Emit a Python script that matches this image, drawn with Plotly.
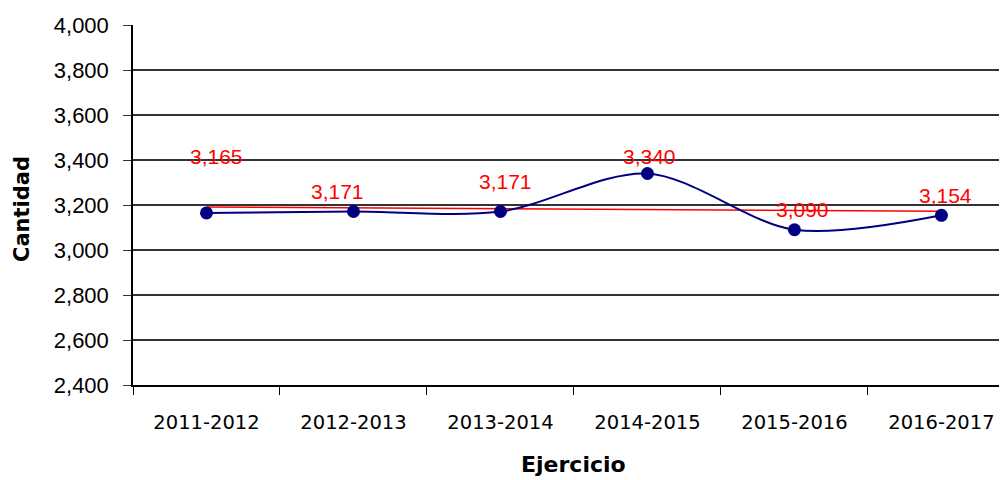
import numpy as np
import plotly.graph_objects as go

categories = ["2011-2012", "2012-2013", "2013-2014", "2014-2015", "2015-2016", "2016-2017"]
values = [3165, 3171, 3171, 3340, 3090, 3154]
y_ticks = [2400, 2600, 2800, 3000, 3200, 3400, 3600, 3800, 4000]

# label placement offsets (pixels) for the red data labels
label_dx = [10, -16, 5, 2, 8, 4]
label_dy = [56, 20, 30, 17, 20, 20]

# linear trend line derived from the data
idx = np.arange(len(values))
slope, intercept = np.polyfit(idx, values, 1)
trend = [intercept + slope * i for i in idx]

fig = go.Figure()
fig.add_trace(go.Scatter(
    x=categories, y=trend, mode="lines",
    line=dict(color="#ff0000", width=1.5),
    hoverinfo="skip", showlegend=False,
))
fig.add_trace(go.Scatter(
    x=categories, y=values, mode="lines+markers",
    line=dict(color="#000080", width=2, shape="spline", smoothing=0.9),
    marker=dict(color="#000080", size=13),
    showlegend=False,
))

annotations = []
for c, v, dx, dy in zip(categories, values, label_dx, label_dy):
    annotations.append(dict(
        x=c, y=v, xref="x", yref="y", text=f"{v:,}", showarrow=False,
        xshift=dx, yshift=dy,
        font=dict(family="Liberation Sans, Arial", size=21, color="#ff0000"),
    ))
annotations.append(dict(
    x=0, y=0.489, xref="paper", yref="paper", text="<b>Cantidad</b>",
    showarrow=False, textangle=-90, xshift=-125,
    font=dict(family="DejaVu Sans", size=21, color="#000000"),
))
annotations.append(dict(
    x=0.504, y=0, xref="paper", yref="paper", text="<b>Ejercicio</b>",
    showarrow=False, yshift=-94,
    font=dict(family="DejaVu Sans", size=22, color="#000000"),
))

fig.update_layout(
    width=999, height=472,
    margin=dict(l=125, r=0, t=17, b=95),
    paper_bgcolor="white", plot_bgcolor="white",
    showlegend=False,
    annotations=annotations,
)
fig.update_xaxes(
    type="category", range=[-0.5, 5.446],
    showgrid=False, showline=True, linecolor="#000000", linewidth=1.5,
    ticks="outside", tickson="boundaries", ticklen=8, tickcolor="#000000",
    tickfont=dict(family="DejaVu Sans", size=19.5, color="#000000"),
    ticklabelstandoff=19,
)
fig.update_yaxes(
    range=[2400, 4000], tickvals=y_ticks, tickformat=",",
    showgrid=True, gridcolor="#333333", gridwidth=1.5,
    showline=True, linecolor="#000000", linewidth=1.5,
    ticks="outside", ticklen=8, tickcolor="#333333",
    tickfont=dict(family="Liberation Sans, Arial", size=22, color="#000000"),
    ticklabelstandoff=10, zeroline=False,
)

fig.write_html("out.html")
